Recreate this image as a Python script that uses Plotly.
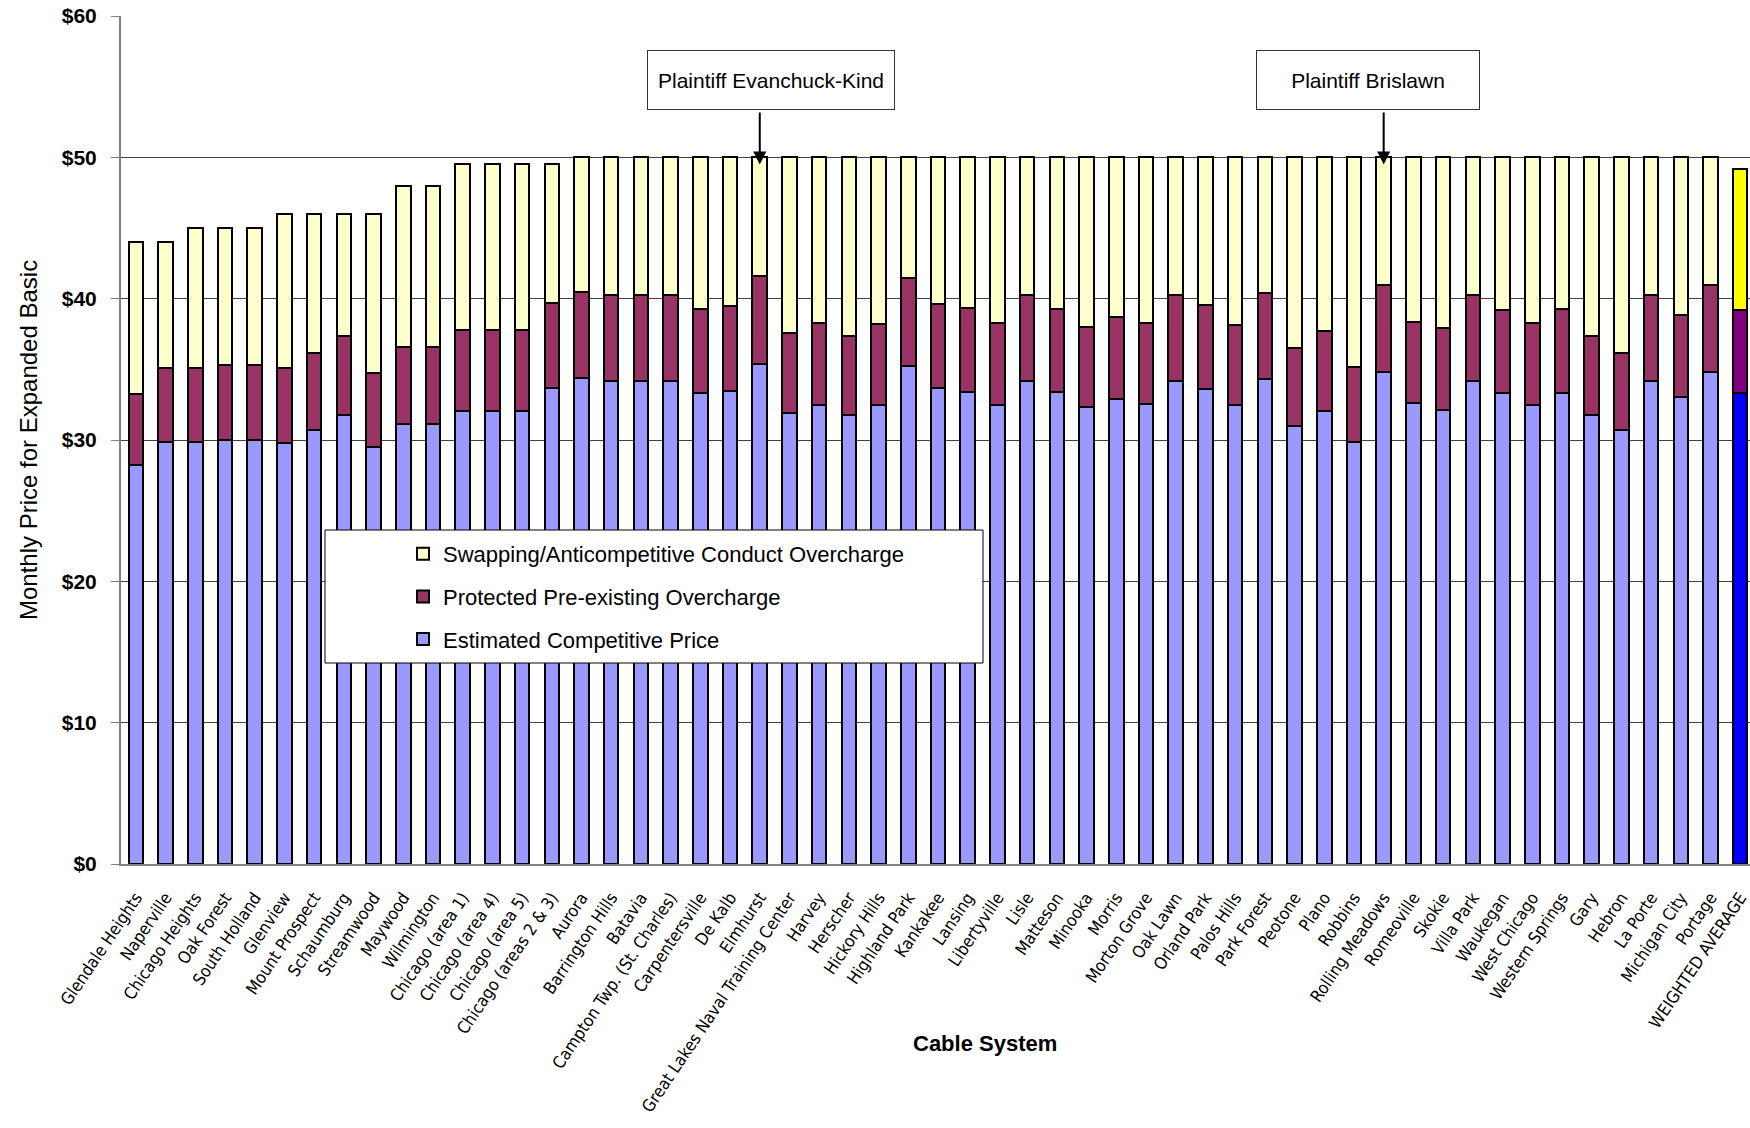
import plotly.graph_objects as go

# Cable systems, in display order (weighted average last)
systems = [
    "Glendale Heights", "Naperville", "Chicago Heights", "Oak Forest", "South Holland",
    "Glenview", "Mount Prospect", "Schaumburg", "Streamwood", "Maywood", "Wilmington",
    "Chicago (area 1)", "Chicago (area 4)", "Chicago (area 5)", "Chicago (areas 2 & 3)",
    "Aurora", "Barrington Hills", "Batavia", "Campton Twp. (St. Charles)", "Carpentersville",
    "De Kalb", "Elmhurst", "Great Lakes Naval Training Center", "Harvey", "Herscher",
    "Hickory Hills", "Highland Park", "Kankakee", "Lansing", "Libertyville", "Lisle",
    "Matteson", "Minooka", "Morris", "Morton Grove", "Oak Lawn", "Orland Park",
    "Palos Hills", "Park Forest", "Peotone", "Plano", "Robbins", "Rolling Meadows",
    "Romeoville", "Skokie", "Villa Park", "Waukegan", "West Chicago", "Western Springs",
    "Gary", "Hebron", "La Porte", "Michigan City", "Portage", "WEIGHTED AVERAGE",
]

# Estimated competitive price ($/month)
competitive = [
    28.23, 29.86, 29.86, 30.00, 30.00, 29.80, 30.70, 31.77, 29.53, 31.11, 31.11,
    32.08, 32.08, 32.08, 33.70, 34.38, 34.20, 34.20, 34.20, 33.30, 33.49, 35.35,
    31.93, 32.45, 31.77, 32.45, 35.24, 33.66, 33.40, 32.50, 34.20, 33.40, 32.31,
    32.88, 32.55, 34.20, 33.58, 32.45, 34.34, 30.99, 32.08, 29.88, 34.83, 32.59,
    32.12, 34.20, 33.30, 32.48, 33.35, 31.75, 30.70, 34.20, 33.02, 34.83, 33.30,
]

# Protected pre-existing overcharge ($/month)
protected = [
    5.00, 5.26, 5.26, 5.31, 5.31, 5.32, 5.43, 5.61, 5.19, 5.47, 5.47,
    5.70, 5.70, 5.70, 5.99, 6.07, 6.06, 6.06, 6.06, 5.95, 5.99, 6.25,
    5.66, 5.80, 5.59, 5.75, 6.25, 5.94, 5.96, 5.75, 6.06, 5.90, 5.71,
    5.80, 5.75, 6.06, 5.97, 5.69, 6.08, 5.50, 5.66, 5.31, 6.14, 5.78,
    5.78, 6.06, 5.90, 5.77, 5.95, 5.61, 5.48, 6.06, 5.82, 6.12, 5.90,
]

# Swapping / anticompetitive conduct overcharge ($/month)
swapping = [
    10.77, 8.88, 9.88, 9.69, 9.69, 10.88, 9.87, 8.62, 11.28, 11.42, 11.42,
    11.72, 11.72, 11.72, 9.81, 9.55, 9.74, 9.74, 9.74, 10.75, 10.52, 8.40,
    12.41, 11.75, 12.64, 11.80, 8.51, 10.40, 10.64, 11.75, 9.74, 10.70, 11.98,
    11.32, 11.70, 9.74, 10.45, 11.86, 9.58, 13.51, 12.26, 14.81, 9.03, 11.63,
    12.10, 9.74, 10.80, 11.75, 10.70, 12.64, 13.82, 9.74, 11.16, 9.05, 10.00,
]

y_ticks = [0, 10, 20, 30, 40, 50, 60]

# Systems singled out with call-out boxes
callouts = [
    ("Plaintiff Evanchuck-Kind", "Elmhurst", 771, 246),
    ("Plaintiff Brislawn", "Rolling Meadows", 1368, 222),
]

W, H = 1750, 1128
L, T, B = 121, 16, 264
plot_w = W - L
plot_h = H - T - B
n = len(systems)
avg_idx = systems.index("WEIGHTED AVERAGE")
slot = plot_w / 54.83


def px_x(px):
    return (px - L) / plot_w


def px_y(py):
    return (H - B - py) / plot_h


def colours(base, highlight):
    return [highlight if i == avg_idx else base for i in range(n)]


# (name, values, colour, weighted-average colour, legend rank)
series = [
    ("Estimated Competitive Price", competitive, "#9999FF", "#0000FF", 3),
    ("Protected Pre-existing Overcharge", protected, "#993366", "#800080", 2),
    ("Swapping/Anticompetitive Conduct Overcharge", swapping, "#FFFFCC", "#FFFF00", 1),
]

fig = go.Figure()
for name, vals, base, hi, rank in series:
    fig.add_trace(go.Bar(
        x=systems, y=vals, name=name, legendgroup=name, legendrank=rank,
        marker=dict(color=colours(base, hi), line=dict(color="black", width=2)),
    ))

totals = [c + p + s for c, p, s in zip(competitive, protected, swapping)]

annotations = []
for text, target, cx, width in callouts:
    annotations.append(dict(
        xref="paper", yref="paper", x=px_x(cx), y=px_y(80.5),
        xanchor="center", yanchor="middle", text=text, showarrow=False,
        width=width, height=58, borderpad=0, borderwidth=1, bordercolor="#333333",
        bgcolor="white", font=dict(family="Liberation Sans, Arial, sans-serif", size=21, color="black"),
    ))
    idx = systems.index(target)
    tip_val = totals[idx] - 0.5
    tip_px = T + (60 - tip_val) / 60 * plot_h
    annotations.append(dict(
        xref="x", yref="y", x=target, y=tip_val, text="",
        showarrow=True, ax=0, ay=-(tip_px - 111), arrowhead=2, arrowsize=1.3,
        arrowwidth=2, arrowcolor="black", standoff=0,
    ))

annotations.append(dict(
    xref="paper", yref="paper", x=px_x(985), y=px_y(1043), text="<b>Cable System</b>",
    showarrow=False, xanchor="center", yanchor="middle",
    font=dict(family="Liberation Sans, Arial, sans-serif", size=22, color="black"),
))
annotations.append(dict(
    xref="paper", yref="paper", x=px_x(28), y=0.5, text="Monthly Price for Expanded Basic",
    showarrow=False, textangle=-90, xanchor="center", yanchor="middle",
    font=dict(family="Liberation Sans, Arial, sans-serif", size=24, color="black"),
))

fig.update_layout(
    width=W, height=H,
    margin=dict(l=L, r=0, t=T, b=B, autoexpand=False),
    paper_bgcolor="white", plot_bgcolor="white",
    barmode="stack", bargap=0.51,
    showlegend=True,
    legend=dict(
        x=px_x(403), y=px_y(533), xanchor="left", yanchor="top",
        bgcolor="rgba(0,0,0,0)", borderwidth=0,
        traceorder="grouped", tracegroupgap=11,
        font=dict(family="Liberation Sans, Arial, sans-serif", size=22, color="black"),
    ),
    shapes=[dict(
        type="rect", xref="paper", yref="paper", layer="above",
        x0=px_x(325), x1=px_x(983), y0=px_y(663), y1=px_y(530),
        fillcolor="white", line=dict(color="black", width=1),
    )],
    annotations=annotations,
    xaxis=dict(
        type="category", range=[-0.5, -0.5 + plot_w / slot],
        tickmode="array", tickvals=systems, ticktext=systems,
        tickangle=-56, ticks="", showgrid=False,
        showline=True, linecolor="#808080", linewidth=2,
        tickfont=dict(family="DejaVu Sans Condensed, DejaVu Sans, sans-serif", size=17, color="black"),
        ticklabelstandoff=15, fixedrange=True,
    ),
    yaxis=dict(
        range=[0, 60], tickmode="array", tickvals=y_ticks,
        ticktext=["$" + str(v) for v in y_ticks],
        showgrid=True, gridcolor="#404040", gridwidth=1, zeroline=False,
        showline=True, linecolor="#808080", linewidth=2,
        ticks="outside", ticklen=8, tickcolor="#808080", tickwidth=1,
        tickfont=dict(family="Liberation Sans, Arial, sans-serif", size=21, color="black", weight="bold"),
        ticklabelstandoff=10, fixedrange=True,
    ),
)

fig.write_html("out.html")
